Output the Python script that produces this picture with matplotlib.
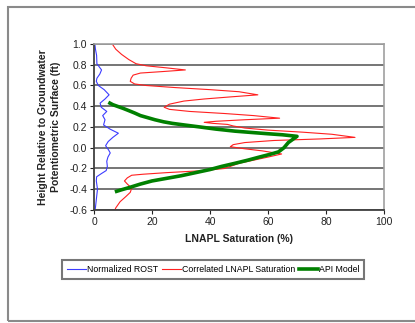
import matplotlib
matplotlib.use("Agg")
import matplotlib.pyplot as plt
from matplotlib.patches import Rectangle

plt.rcParams['font.family'] = ['Liberation Sans', 'DejaVu Sans']

# Normalized ROST (x = value, y = height)
rost_y = [1.0, 0.95, 0.89, 0.81, 0.78, 0.75, 0.71, 0.67, 0.64, 0.6, 0.56, 0.51, 0.47, 0.43, 0.39,
          0.35, 0.31, 0.27, 0.22, 0.18, 0.14, 0.1, 0.06, 0.02, -0.02, -0.05, -0.09, -0.13, -0.18,
          -0.22, -0.25, -0.28, -0.32, -0.4, -0.5, -0.6]
rost_x = [0.3, 0.5, 0.9, 1.0, 1.8, 2.6, 2.0, 1.0, 0.8, 1.5, 3.5, 5.2, 3.8, 2.1, 2.5,
          4.4, 3.0, 3.8, 3.3, 5.5, 8.4, 6.5, 4.9, 4.0, 5.0, 5.6, 4.8, 4.4, 4.6,
          4.2, 2.5, 0.9, 0.8, 1.2, 0.8, 0.4]

# Correlated LNAPL Saturation
sat_y = [1.0, 0.95, 0.9, 0.85, 0.81, 0.79, 0.77, 0.75, 0.735, 0.72, 0.70, 0.67, 0.64, 0.615,
         0.60, 0.58, 0.56, 0.54, 0.51, 0.49, 0.47, 0.45, 0.42, 0.39, 0.37, 0.35, 0.33, 0.31,
         0.285, 0.27, 0.255, 0.245, 0.235, 0.225, 0.21, 0.19, 0.17, 0.15, 0.13, 0.10, 0.085,
         0.07, 0.05, 0.03, 0.01, -0.01, -0.03, -0.06, -0.09, -0.12, -0.15, -0.18, -0.2, -0.22,
         -0.24, -0.255, -0.265, -0.29, -0.32, -0.35, -0.39, -0.43, -0.47, -0.52, -0.58, -0.6]
sat_x = [6.3, 7.5, 9.5, 12, 14.5, 18, 25, 31.5, 24, 16, 13.5, 12.8, 12.5, 14,
         18, 28, 40, 50, 56.5, 47, 38, 31, 26, 24.2, 26, 33, 45, 55,
         64, 52, 42, 38, 41, 46, 48, 52, 60, 72, 82, 90, 78,
         62, 52, 48, 47, 52, 58, 64.7, 60, 55, 50, 47, 45, 38,
         25, 17, 13, 11.5, 10.5, 11.5, 13, 12.5, 11, 9, 7.5, 7.2]

# API Model
api_y = [0.43, 0.415, 0.40, 0.38, 0.36, 0.335, 0.31, 0.29, 0.27, 0.25, 0.235, 0.22, 0.2, 0.18,
         0.16, 0.148, 0.135, 0.125, 0.11, 0.08, 0.05, 0.0, -0.04, -0.065, -0.09, -0.12, -0.15,
         -0.18, -0.21, -0.24, -0.27, -0.295, -0.32, -0.35, -0.385, -0.405, -0.42]
api_x = [5.5, 6.5, 8, 10, 11.8, 14, 16, 18.5, 21, 24, 27, 31, 36.6, 42,
         48.6, 54, 60, 65, 70, 68.5, 67, 65.5, 63.6, 60.5, 57, 53, 48.6,
         44, 40, 35, 30, 25, 20, 16, 12, 9.5, 7.8]

yticks = [-0.6, -0.4, -0.2, 0.0, 0.2, 0.4, 0.6, 0.8, 1.0]
xticks = [0, 20, 40, 60, 80, 100]

W, H = 415, 323
fig = plt.figure(figsize=(W / 100, H / 100), dpi=100)
fig.patch.set_facecolor('white')

# outer frame
fig.patches.append(Rectangle((8 / W, 1 - 321 / H), 1.2, (321 - 7) / H, transform=fig.transFigure,
                             fill=False, edgecolor='#8a8a8a', linewidth=1.5, clip_on=False))

ax = fig.add_axes([94 / W, 1 - 210 / H, 290 / W, 166 / H])
ax.set_xlim(0, 100)
ax.set_ylim(-0.6, 1.0)
ax.set_yticks(yticks)
ax.set_xticks(xticks)
ax.set_yticklabels([f"{v:.1f}" for v in yticks])
ax.set_xticklabels([str(v) for v in xticks])
ax.yaxis.grid(True, color='#6a6a6a', linewidth=1.3)
ax.set_axisbelow(True)
for s in ['top', 'right']:
    ax.spines[s].set_color('#a0a0a0')
    ax.spines[s].set_linewidth(1.2)
for s in ['left', 'bottom']:
    ax.spines[s].set_color('#404040')
    ax.spines[s].set_linewidth(1.3)
ax.tick_params(axis='both', labelsize=7.5, colors='#222222', length=3, width=0.8, pad=2)

l1, = ax.plot(rost_x, rost_y, color='#3c3cff', linewidth=0.8, label='Normalized ROST')
l2, = ax.plot(sat_x, sat_y, color='#ff2020', linewidth=0.8, label='Correlated LNAPL Saturation')
l3, = ax.plot(api_x, api_y, color='#008000', linewidth=2.6, solid_joinstyle='round',
              label='API Model')

ax.set_xlabel('LNAPL Saturation (%)', fontsize=7.5, fontweight='bold', labelpad=5, color='#222222')
ax.set_ylabel('Height Relative to Groundwater\nPotentiometric Surface (ft)', fontsize=7.5,
              fontweight='bold', labelpad=6, color='#222222', linespacing=1.3)

leg = fig.legend(handles=[l1, l2, l3], loc='center', bbox_to_anchor=(213 / W, 1 - 269.5 / H),
                 ncol=3, fontsize=6.3, frameon=True, fancybox=False, handlelength=2.2,
                 handletextpad=0.1, columnspacing=0.4, borderpad=0.6, borderaxespad=0)
leg.get_frame().set_edgecolor('#555555')
leg.get_frame().set_linewidth(1.5)

fig.savefig('out.png', dpi=100)
